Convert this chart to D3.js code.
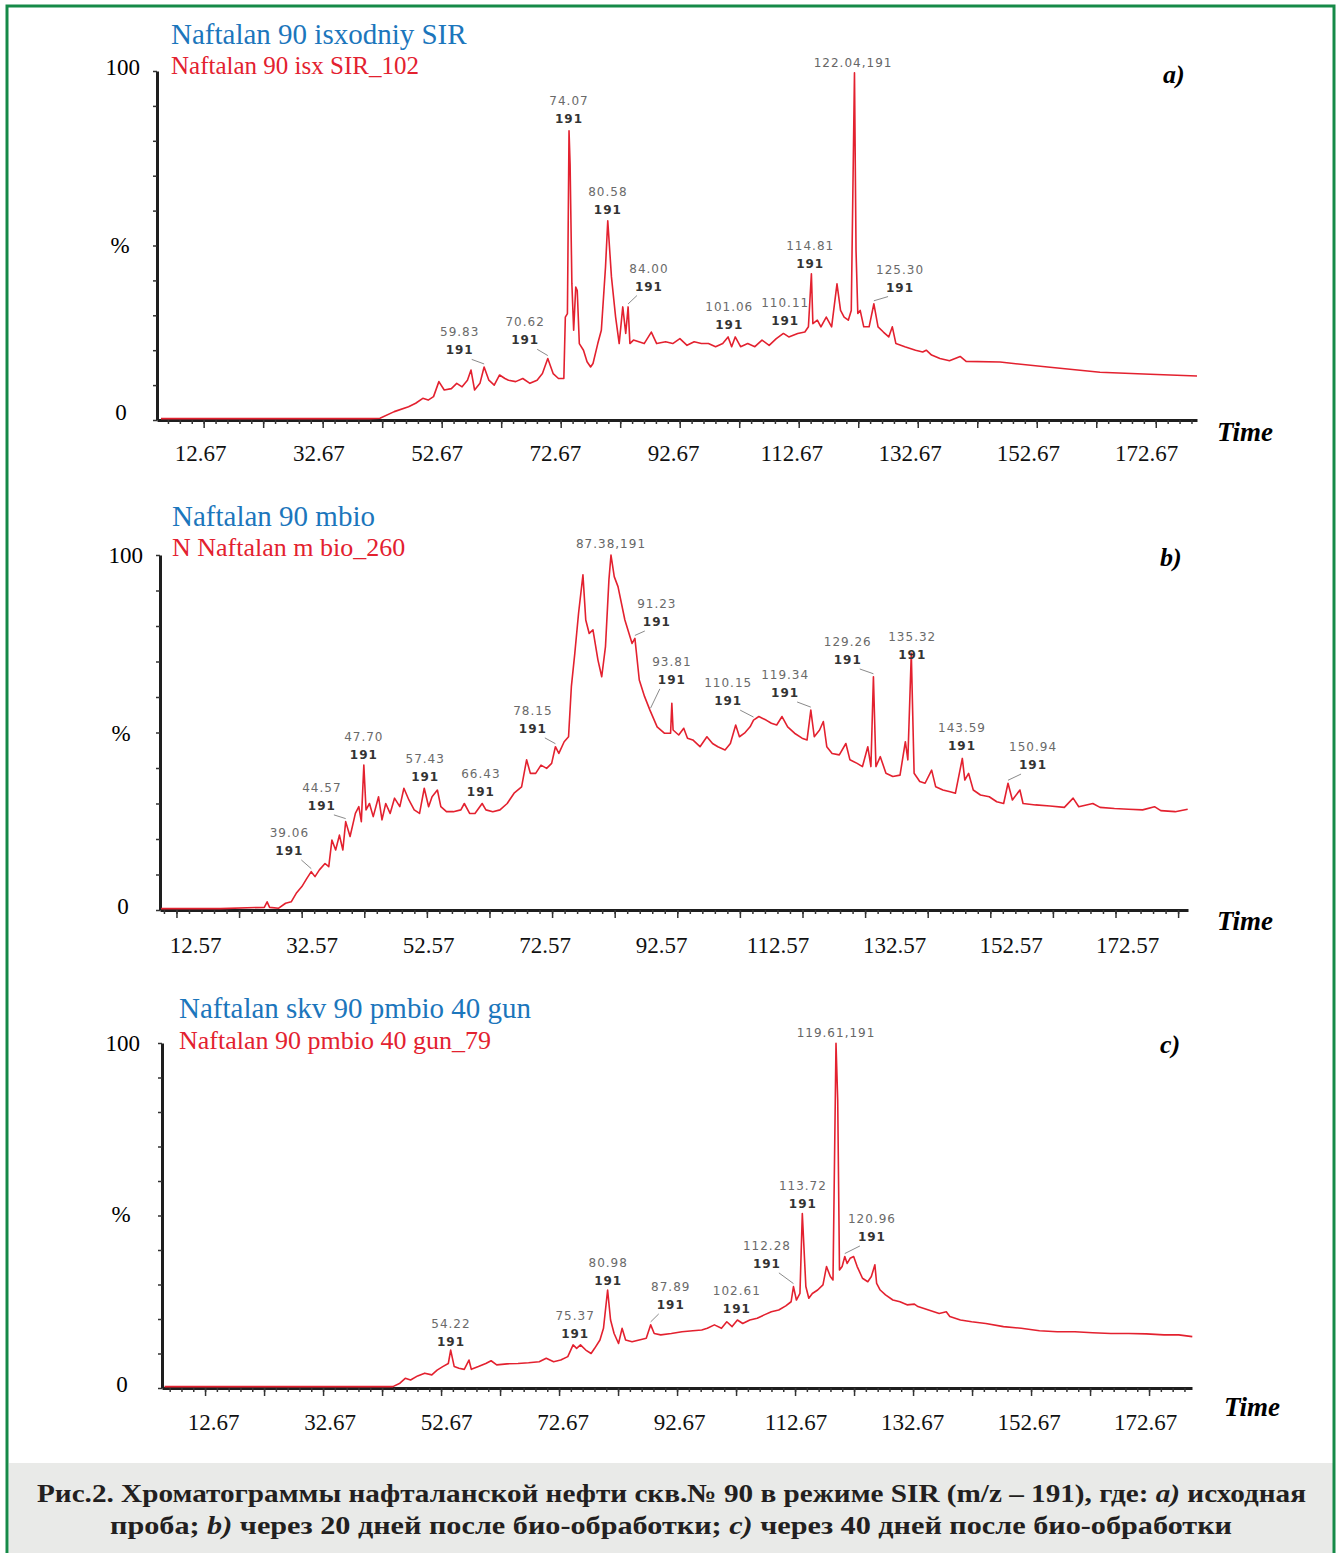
<!DOCTYPE html>
<html>
<head>
<meta charset="utf-8">
<title>Naftalan SIR chromatograms</title>
<script src="https://d3js.org/d3.v7.min.js"></script>
<style>
  body { margin: 0; background: #fff; }
  text { font-family: "Liberation Serif", "Times New Roman", serif; }
  .pk { font-family: "DejaVu Sans", sans-serif; font-size: 12px; letter-spacing: 1px; }
</style>
</head>
<body>
<div id="chart"></div>
<script>

// retention time (min) / relative intensity (%)
const traceA = [[5.5,0.4],[20,0.4],[35,0.4],[40.5,0.4],[42.3,0.5],[44.7,2.4],[47.1,3.8],[48.3,4.8],[49.5,6.2],[50.4,5.7],[51.3,6.7],[52.2,11.0],[53.1,8.6],[54.3,9.0],[55.2,10.5],[56.1,9.5],[57.0,11.4],[57.6,14.3],[58.2,8.6],[59.1,10.5],[59.8,15.2],[60.6,11.4],[61.5,10.0],[62.4,12.9],[63.3,11.9],[63.9,11.4],[65.1,11.0],[66.3,11.9],[67.5,10.5],[68.7,11.4],[69.6,13.3],[70.5,17.6],[71.4,13.3],[72.3,11.9],[73.2,11.9],[73.45,29.5],[73.8,30.5],[74.07,82.9],[74.25,73.3],[74.55,39.0],[74.85,25.7],[75.2,38.1],[75.45,37.1],[75.8,21.9],[76.5,20.0],[77.1,16.7],[77.7,15.2],[78.1,16.2],[78.9,21.9],[79.5,25.7],[80.2,43.8],[80.58,57.1],[81.2,41.0],[81.9,29.5],[82.5,21.9],[83.1,32.4],[83.6,24.8],[84.0,32.4],[84.3,21.9],[84.9,22.9],[85.8,22.4],[86.7,21.9],[87.9,25.2],[88.8,21.9],[90.3,22.4],[91.5,21.9],[92.7,23.3],[93.9,21.4],[95.1,22.4],[96.3,21.9],[97.5,21.9],[98.7,21.0],[99.9,21.9],[100.8,23.8],[101.4,21.0],[102.0,23.8],[102.9,21.0],[104.1,21.9],[105.3,21.0],[106.5,22.9],[107.7,21.4],[108.9,23.3],[110.1,24.8],[111.0,23.8],[112.5,24.8],[113.7,25.2],[114.3,26.7],[114.8,41.9],[115.05,27.6],[115.8,28.6],[116.4,26.7],[117.3,29.5],[118.2,26.7],[119.1,39.0],[119.7,31.4],[120.3,29.5],[121.0,28.6],[121.5,31.4],[122.04,99.5],[122.3,48.6],[122.6,30.5],[123.0,31.4],[123.6,26.7],[124.5,26.7],[125.3,33.3],[126.0,26.7],[126.9,25.2],[127.8,23.8],[128.4,26.7],[129.0,21.9],[130.5,21.0],[132.3,20.0],[133.5,19.5],[134.1,20.0],[135.0,18.6],[136.4,17.6],[138.0,17.0],[139.8,18.2],[140.8,16.8],[146.5,16.6],[154.9,15.1],[163.3,13.7],[171.7,13.1],[179.6,12.6]];

const traceB = [[15.5,0.4],[25,0.4],[32.0,0.75],[32.45,2.3],[32.85,0.75],[34.3,0.5],[35.4,1.9],[36.3,2.3],[37.1,4.7],[38.0,6.6],[38.8,8.9],[39.5,10.8],[40.1,9.4],[40.8,11.3],[41.7,13.1],[42.3,12.2],[42.8,19.7],[43.4,16.9],[44.0,21.1],[44.55,16.9],[45.0,24.9],[45.7,20.7],[46.55,27.2],[47.1,29.1],[47.5,24.9],[47.9,40.8],[48.25,28.2],[48.8,30.0],[49.4,26.3],[50.25,31.9],[50.8,25.4],[51.4,30.0],[52.1,27.2],[52.8,31.5],[53.65,29.1],[54.3,34.3],[55.1,31.0],[55.95,28.2],[56.8,27.2],[57.55,34.3],[58.25,29.1],[58.8,31.9],[59.65,33.8],[60.2,29.1],[61.1,27.7],[62.2,27.7],[63.4,28.2],[63.95,30.0],[64.8,27.2],[65.65,27.2],[66.8,30.0],[67.4,28.2],[68.5,27.7],[69.65,28.2],[70.8,30.0],[71.9,32.9],[73.1,34.7],[73.9,42.3],[74.5,38.5],[75.35,38.5],[76.2,40.8],[77.1,39.9],[77.9,41.3],[78.5,46.0],[79.05,44.1],[79.9,47.4],[80.6,48.8],[81.05,62.9],[81.6,72.3],[82.2,83.6],[82.9,94.4],[83.35,81.7],[83.9,77.9],[84.5,78.9],[85.3,70.4],[85.9,65.7],[86.5,74.2],[87.05,93.0],[87.38,100],[87.9,93.9],[88.5,91.1],[89.6,81.7],[90.75,75.1],[91.2,76.5],[91.9,64.8],[92.75,60.1],[93.6,56.3],[94.75,51.6],[95.9,49.8],[96.9,49.8],[97.1,58.2],[97.3,50.7],[98.2,49.3],[99.0,51.2],[99.6,48.4],[100.45,47.9],[101.6,46.0],[102.7,48.8],[103.6,46.9],[104.45,46.0],[105.6,45.1],[106.45,46.9],[107.3,52.1],[107.9,48.8],[108.7,49.8],[109.6,51.6],[110.15,53.5],[111.0,54.5],[112.15,53.5],[113.0,52.6],[113.85,52.1],[114.7,54.5],[115.6,51.6],[116.7,49.8],[117.9,48.4],[118.7,47.9],[119.3,56.3],[119.85,48.8],[120.7,50.7],[121.3,53.1],[121.85,46.0],[122.7,44.1],[123.85,43.7],[124.9,46.9],[125.55,42.3],[126.7,41.3],[127.55,40.4],[128.4,46.0],[128.9,40.4],[129.3,65.7],[129.7,40.4],[130.4,43.2],[131.3,38.5],[132.4,37.6],[133.55,38.0],[134.4,47.4],[134.8,42.3],[135.35,72.3],[135.8,38.5],[136.7,36.2],[137.55,35.7],[138.6,39.4],[139.25,34.7],[140.4,33.8],[141.55,33.3],[142.4,32.9],[143.5,42.7],[143.9,36.6],[144.5,38.5],[145.25,33.8],[146.4,32.4],[147.8,31.9],[149.0,30.5],[150.1,30.0],[150.8,35.7],[151.5,31.0],[152.7,33.8],[153.2,30.0],[155.2,29.6],[157.5,29.3],[159.8,28.9],[161.2,31.5],[162.1,29.1],[164.35,30.0],[165.5,28.9],[167.8,28.6],[170.05,28.4],[172.3,28.2],[174.2,29.1],[175.2,28.0],[177.5,27.7],[179.5,28.4]];

const traceC = [[5.8,0.4],[20,0.4],[35,0.4],[44.5,0.4],[45.7,1.4],[46.6,2.8],[47.5,2.3],[48.7,3.5],[49.9,4.3],[51.1,3.8],[52.0,5.2],[52.95,6.2],[53.9,7.1],[54.3,11.0],[54.9,6.2],[55.7,5.7],[56.6,5.4],[57.4,8.1],[57.8,5.4],[59.0,6.2],[60.25,7.1],[61.15,7.9],[62.1,6.7],[63.85,7.0],[65.7,7.1],[67.5,7.3],[69.3,7.6],[70.5,8.6],[71.75,7.6],[72.95,8.1],[74.15,9.1],[75.05,12.5],[75.65,11.5],[76.3,12.5],[77.2,11.0],[78.1,10.0],[78.7,11.5],[79.6,13.9],[80.2,17.3],[80.9,28.4],[81.4,19.7],[82.0,15.8],[82.75,12.9],[83.35,17.3],[83.95,13.9],[85.05,13.4],[86.25,13.9],[87.45,14.4],[88.2,18.3],[88.8,15.8],[89.9,15.4],[91.7,15.8],[93.5,16.3],[95.35,16.6],[96.85,16.8],[97.8,17.3],[99.0,18.3],[100.2,17.3],[101.1,19.2],[102.0,17.8],[102.9,19.7],[103.8,18.7],[105.0,19.7],[106.25,20.2],[107.45,21.2],[108.65,22.1],[109.9,22.6],[111.1,23.8],[112.0,25.0],[112.4,29.4],[112.9,25.5],[113.5,27.4],[113.9,50.6],[114.5,29.4],[115.0,26.0],[115.6,27.4],[116.5,28.4],[117.4,29.9],[118.0,35.2],[118.65,32.3],[119.1,31.3],[119.61,99.9],[119.9,83.5],[120.2,34.2],[120.65,35.2],[121.1,38.1],[121.5,36.1],[122.0,37.6],[122.6,38.1],[123.2,35.2],[124.1,31.8],[125.0,30.8],[125.6,32.3],[126.2,35.7],[126.5,30.3],[127.1,28.4],[128.0,27.0],[129.25,25.5],[130.45,25.0],[131.65,24.1],[132.9,24.3],[133.5,23.6],[135.3,22.6],[137.1,21.6],[138.3,22.1],[138.9,20.7],[140.7,19.7],[142.6,19.2],[145.0,18.7],[148.0,17.8],[151.0,17.3],[154.1,16.6],[157.1,16.3],[160.1,16.3],[163.1,16.0],[166.2,15.8],[169.2,15.8],[172.2,15.7],[175.2,15.4],[177.7,15.4],[180.0,14.9]];

// peak labels: rt text, peak (t, v), label centre (lt, lv) in data units
const peaksA = [
  {rt:"74.07", t:74.07, v:82.9, lt:74.07, lv:91.4},
  {rt:"80.58", t:80.58, v:57.1, lt:80.6, lv:65.4},
  {rt:"84.00", t:84.0, v:32.4, lt:87.5, lv:43.4},
  {rt:"59.83", t:59.8, v:15.2, lt:55.7, lv:25.1},
  {rt:"70.62", t:70.5, v:17.6, lt:66.7, lv:28.0},
  {rt:"101.06", t:101.0, v:24.0, lt:101.0, lv:32.3},
  {rt:"110.11", t:110.1, v:24.8, lt:110.4, lv:33.4},
  {rt:"114.81", t:114.8, v:41.9, lt:114.6, lv:50.0},
  {rt:"125.30", t:125.3, v:33.3, lt:129.7, lv:43.1},
  {rt:"122.04", t:122.04, v:99.5, lt:121.8, lv:102.3, one:true}
];
const peaksB = [
  {rt:"87.38", t:87.38, v:100, lt:87.38, lv:103.1, one:true},
  {rt:"91.23", t:91.2, v:76.5, lt:94.7, lv:86.2},
  {rt:"93.81", t:93.7, v:56.0, lt:97.1, lv:69.9},
  {rt:"110.15", t:110.15, v:53.5, lt:106.1, lv:63.9},
  {rt:"119.34", t:119.3, v:56.3, lt:115.2, lv:66.2},
  {rt:"129.26", t:129.3, v:65.7, lt:125.2, lv:75.5},
  {rt:"135.32", t:135.35, v:72.3, lt:135.5, lv:76.9},
  {rt:"143.59", t:143.5, v:42.7, lt:143.45, lv:51.3},
  {rt:"150.94", t:150.8, v:35.7, lt:154.8, lv:45.9},
  {rt:"78.15", t:78.5, v:46.0, lt:74.9, lv:56.1},
  {rt:"47.70", t:47.9, v:40.8, lt:47.9, lv:48.7},
  {rt:"57.43", t:57.55, v:34.3, lt:57.7, lv:42.5},
  {rt:"66.43", t:66.8, v:30.0, lt:66.6, lv:38.3},
  {rt:"44.57", t:45.0, v:24.9, lt:41.2, lv:34.4},
  {rt:"39.06", t:39.5, v:10.8, lt:36.0, lv:21.7}
];
const peaksC = [
  {rt:"119.61", t:119.61, v:99.9, lt:119.61, lv:102.9, one:true},
  {rt:"113.72", t:113.9, v:50.6, lt:114.0, lv:58.6},
  {rt:"112.28", t:112.4, v:29.4, lt:107.9, lv:41.2},
  {rt:"120.96", t:121.1, v:38.1, lt:125.7, lv:49.0},
  {rt:"102.61", t:102.9, v:19.7, lt:102.8, lv:28.1},
  {rt:"87.89", t:88.2, v:18.3, lt:91.6, lv:29.3},
  {rt:"80.98", t:80.9, v:28.4, lt:81.0, lv:36.2},
  {rt:"75.37", t:75.3, v:12.5, lt:75.4, lv:20.9},
  {rt:"54.22", t:54.3, v:11.0, lt:54.35, lv:18.6}
];

// tick labels printed under each axis
const ticksA = [12.67, 32.67, 52.67, 72.67, 92.67, 112.67, 132.67, 152.67, 172.67];
const ticksB = [12.57, 32.57, 52.57, 72.57, 92.57, 112.57, 132.57, 152.57, 172.57];
const ticksC = [12.67, 32.67, 52.67, 72.67, 92.67, 112.67, 132.67, 152.67, 172.67];

const titles = ["Naftalan 90 isxodniy SIR", "Naftalan 90 mbio", "Naftalan skv 90 pmbio 40 gun"];
const subtitles = ["Naftalan 90 isx SIR_102", "N Naftalan m bio_260", "Naftalan 90 pmbio 40 gun_79"];
const tags = ["a)", "b)", "c)"];

const W = 1341, H = 1553;
const red = "#e3212f", blue = "#1c76bc";

const svg = d3.select("#chart").append("svg")
    .attr("width", W)
    .attr("height", H);

svg.append("rect").attr("width", W).attr("height", H).attr("fill", "#fff");

// layout of every panel (pixels)
const panels = [
  {trace: traceA, peaks: peaksA, ticks: ticksA, dom: [4.83, 179.6], left: 157, right: 1197, top: 71, bottom: 420,
   labRange: [200, 1146], major0: 12.67, titleX: 171, titleY: 44, subY: 74, subSize: 25, tagX: 1163, tagY: 83,
   timeX: 1217, timeY: 441, labY: 459, y100: [140, 75], yPct: [120, 253], y0: [121, 420]},
  {trace: traceB, peaks: peaksB, ticks: ticksB, dom: [15.34, 179.55], left: 160, right: 1188, top: 555, bottom: 910,
   labRange: [195, 1127], major0: 17.97, titleX: 172, titleY: 526, subY: 556, subSize: 26, tagX: 1160, tagY: 566,
   timeX: 1217, timeY: 930, labY: 951, y100: [143, 563], yPct: [121, 741], y0: [123, 914]},
  {trace: traceC, peaks: peaksC, ticks: ticksC, dom: [5.37, 179.95], left: 162, right: 1192, top: 1043, bottom: 1388,
   labRange: [213, 1145], major0: 12.67, titleX: 179, titleY: 1018, subY: 1049, subSize: 26, tagX: 1160, tagY: 1053,
   timeX: 1224, timeY: 1416, labY: 1428, y100: [140, 1051], yPct: [121, 1222], y0: [122, 1392]}
];

panels.forEach(function(p, i) {
    const g = svg.append("g");

    const x = d3.scaleLinear().domain(p.dom).range([p.left, p.right]);
    const y = d3.scaleLinear().domain([0, 100]).range([p.bottom, p.top]);
    // the printed labels don't sit exactly on the instrument ticks, so they get their own scale
    const xLab = d3.scaleLinear().domain([p.ticks[0], p.ticks[p.ticks.length - 1]]).range(p.labRange);

    // x axis: minor ticks every 2 min, bigger every 10
    const minor = d3.range(p.major0 - 10, p.dom[1], 2).filter(d => d > p.dom[0] + 0.5);
    const major = d3.range(p.major0 - 10, p.dom[1], 10).filter(d => d > p.dom[0] + 0.5);

    const gx = g.append("g")
        .attr("transform", `translate(0, ${p.bottom})`)
        .call(d3.axisBottom(x).tickValues(minor).tickSize(4).tickSizeOuter(0).tickFormat(""));
    gx.select(".domain").attr("stroke", "#1e1e1e").attr("stroke-width", 3);
    gx.selectAll(".tick line").attr("stroke", "#333").attr("stroke-width", 1.5);

    g.append("g")
        .attr("transform", `translate(0, ${p.bottom})`)
        .call(d3.axisBottom(x).tickValues(major).tickSize(8).tickFormat(""))
        .call(s => s.select(".domain").remove())
        .selectAll(".tick line").attr("stroke", "#333").attr("stroke-width", 1.5);

    const gy = g.append("g")
        .attr("transform", `translate(${p.left}, 0)`)
        .call(d3.axisLeft(y).tickValues(d3.range(0, 101, 10)).tickSize(4).tickSizeOuter(0).tickFormat(""));
    gy.select(".domain").attr("stroke", "#1e1e1e").attr("stroke-width", 3);
    gy.selectAll(".tick line").attr("stroke", "#333").attr("stroke-width", 1.5);

    // tick labels
    g.append("g")
        .attr("transform", `translate(0, ${p.labY - 17})`)
        .call(d3.axisBottom(xLab).tickValues(p.ticks).tickSize(0).tickFormat(d => d.toFixed(2)))
        .call(s => s.select(".domain").remove())
        .selectAll("text")
            .attr("font-family", "Liberation Serif, serif")
            .attr("font-size", 23)
            .attr("fill", "#111");

    // the trace
    g.append("path")
        .datum(p.trace)
        .attr("fill", "none")
        .attr("stroke", red)
        .attr("stroke-width", 1.6)
        .attr("stroke-linejoin", "round")
        .attr("d", d3.line().x(d => x(d[0])).y(d => y(d[1])));

    // peak labels + leader lines
    p.peaks.forEach(function(pk) {
        const lx = x(pk.lt), ly = y(pk.lv);
        if (pk.one) {
            g.append("text").attr("class", "pk")
                .attr("x", lx).attr("y", ly + 4)
                .attr("text-anchor", "middle")
                .attr("fill", "#666")
                .text(pk.rt + ",191");
            return;
        }
        g.append("text").attr("class", "pk")
            .attr("x", lx).attr("y", ly + 4)
            .attr("text-anchor", "middle")
            .attr("fill", "#6a6a6a")
            .text(pk.rt);
        g.append("text").attr("class", "pk")
            .attr("x", lx).attr("y", ly + 22)
            .attr("text-anchor", "middle")
            .attr("fill", "#333")
            .attr("font-weight", "bold")
            .text("191");
        const dx = x(pk.t) - lx;
        if (Math.abs(dx) > 8) {
            g.append("line")
                .attr("x1", lx + Math.max(-12, Math.min(12, dx)))
                .attr("y1", ly + 27)
                .attr("x2", x(pk.t))
                .attr("y2", y(pk.v) - 3)
                .attr("stroke", "#8a8a8a")
                .attr("stroke-width", 1);
        }
    });

    // titles and other texts
    g.append("text").attr("x", p.titleX).attr("y", p.titleY)
        .attr("font-size", 29).attr("fill", blue).text(titles[i]);
    g.append("text").attr("x", p.titleX).attr("y", p.subY)
        .attr("font-size", p.subSize).attr("fill", red).text(subtitles[i]);

    g.append("text").attr("x", p.y100[0]).attr("y", p.y100[1])
        .attr("text-anchor", "end").attr("font-size", 23).text("100");
    g.append("text").attr("x", p.yPct[0]).attr("y", p.yPct[1])
        .attr("text-anchor", "middle").attr("font-size", 23).text("%");
    g.append("text").attr("x", p.y0[0]).attr("y", p.y0[1])
        .attr("text-anchor", "middle").attr("font-size", 23).text("0");

    g.append("text").attr("x", p.tagX).attr("y", p.tagY)
        .attr("font-size", 26).attr("font-style", "italic").attr("font-weight", "bold")
        .text(tags[i]);
    g.append("text").attr("x", p.timeX).attr("y", p.timeY)
        .attr("font-size", 27).attr("font-style", "italic").attr("font-weight", "bold")
        .text("Time");
});

// caption box
svg.append("rect")
    .attr("x", 9).attr("y", 1463)
    .attr("width", 1324).attr("height", 95)
    .attr("fill", "#e9eae8");

// the printed caption font is much wider than Times, so stretch to the measured line widths
const cap1 = svg.append("text").attr("x", 37).attr("y", 1502)
    .attr("textLength", 1269).attr("lengthAdjust", "spacingAndGlyphs")
    .attr("font-size", 26).attr("font-weight", "bold").attr("fill", "#231f20");
cap1.append("tspan").text("Рис.2. Хроматограммы нафталанской нефти скв.№ 90 в режиме SIR (m/z – 191), где: ");
cap1.append("tspan").attr("font-style", "italic").text("a)");
cap1.append("tspan").text(" исходная");

const cap2 = svg.append("text").attr("x", 110).attr("y", 1534)
    .attr("textLength", 1122).attr("lengthAdjust", "spacingAndGlyphs")
    .attr("font-size", 26).attr("font-weight", "bold").attr("fill", "#231f20");
cap2.append("tspan").text("проба; ");
cap2.append("tspan").attr("font-style", "italic").text("b)");
cap2.append("tspan").text(" через 20 дней после био-обработки; ");
cap2.append("tspan").attr("font-style", "italic").text("c)");
cap2.append("tspan").text(" через 40 дней после био-обработки");

// green frame
svg.append("rect")
    .attr("x", 7).attr("y", 6)
    .attr("width", 1327).attr("height", H + 20)
    .attr("fill", "none")
    .attr("stroke", "#168a48")
    .attr("stroke-width", 3);

</script>
</body>
</html>
